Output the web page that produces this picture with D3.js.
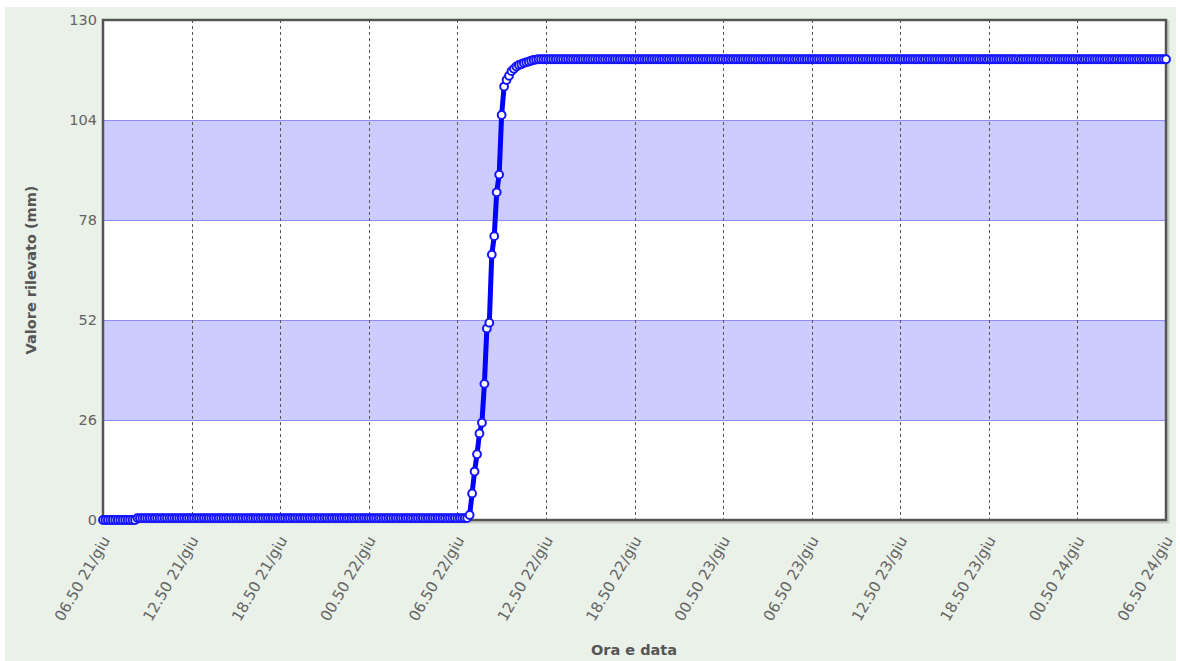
<!DOCTYPE html>
<html>
<head>
<meta charset="utf-8">
<script src="https://cdn.jsdelivr.net/npm/d3@7"></script>
<style>
  html, body { margin: 0; padding: 0; background: #ffffff; }
  svg { display: block; }
</style>
</head>
<body>
<svg id="chart" width="1180" height="661"></svg>
<script>
// ---- data ----
const startTime = new Date(2024, 5, 21, 6, 50); // 06.50 21/giu
const stepMinutes = 10;
const yTicks = [0, 26, 52, 78, 104, 130];
const xTickLabels = ["06.50 21/giu", "12.50 21/giu", "18.50 21/giu", "00.50 22/giu",
  "06.50 22/giu", "12.50 22/giu", "18.50 22/giu", "00.50 23/giu", "06.50 23/giu",
  "12.50 23/giu", "18.50 23/giu", "00.50 24/giu", "06.50 24/giu"];
const bands = [[26, 52], [78, 104]];
const values = [
  0,0,0,0,0,0,0,0,0,0,0,0,0,0,
  0.5,0.5,0.5,0.5,0.5,0.5,0.5,0.5,0.5,0.5,0.5,0.5,0.5,0.5,0.5,
  0.5,0.5,0.5,0.5,0.5,0.5,0.5,0.5,0.5,0.5,0.5,0.5,0.5,0.5,0.5,
  0.5,0.5,0.5,0.5,0.5,0.5,0.5,0.5,0.5,0.5,0.5,0.5,0.5,0.5,0.5,
  0.5,0.5,0.5,0.5,0.5,0.5,0.5,0.5,0.5,0.5,0.5,0.5,0.5,0.5,0.5,
  0.5,0.5,0.5,0.5,0.5,0.5,0.5,0.5,0.5,0.5,0.5,0.5,0.5,0.5,0.5,
  0.5,0.5,0.5,0.5,0.5,0.5,0.5,0.5,0.5,0.5,0.5,0.5,0.5,0.5,0.5,
  0.5,0.5,0.5,0.5,0.5,0.5,0.5,0.5,0.5,0.5,0.5,0.5,0.5,0.5,0.5,
  0.5,0.5,0.5,0.5,0.5,0.5,0.5,0.5,0.5,0.5,0.5,0.5,0.5,0.5,0.5,
  0.5,0.5,0.5,0.5,0.5,0.5,0.5,0.5,0.5,0.5,0.5,0.5,0.5,0.5,0.5,
  1.3,6.9,12.6,17.1,22.5,25.3,35.4,49.8,51.3,69,73.8,85.2,89.8,105.3,
  112.7,114.4,115.5,116.7,117.3,117.9,118.3,118.5,118.8,119,119.2,119.4,119.6,119.7,
  119.8,119.8,119.8,119.8,119.8,119.8,119.8,119.8,119.8,119.8,119.8,119.8,119.8,119.8,119.8,119.8,
  119.8,119.8,119.8,119.8,119.8,119.8,119.8,119.8,119.8,119.8,119.8,119.8,119.8,119.8,119.8,119.8,
  119.8,119.8,119.8,119.8,119.8,119.8,119.8,119.8,119.8,119.8,119.8,119.8,119.8,119.8,119.8,119.8,
  119.8,119.8,119.8,119.8,119.8,119.8,119.8,119.8,119.8,119.8,119.8,119.8,119.8,119.8,119.8,119.8,
  119.8,119.8,119.8,119.8,119.8,119.8,119.8,119.8,119.8,119.8,119.8,119.8,119.8,119.8,119.8,119.8,
  119.8,119.8,119.8,119.8,119.8,119.8,119.8,119.8,119.8,119.8,119.8,119.8,119.8,119.8,119.8,119.8,
  119.8,119.8,119.8,119.8,119.8,119.8,119.8,119.8,119.8,119.8,119.8,119.8,119.8,119.8,119.8,119.8,
  119.8,119.8,119.8,119.8,119.8,119.8,119.8,119.8,119.8,119.8,119.8,119.8,119.8,119.8,119.8,119.8,
  119.8,119.8,119.8,119.8,119.8,119.8,119.8,119.8,119.8,119.8,119.8,119.8,119.8,119.8,119.8,119.8,
  119.8,119.8,119.8,119.8,119.8,119.8,119.8,119.8,119.8,119.8,119.8,119.8,119.8,119.8,119.8,119.8,
  119.8,119.8,119.8,119.8,119.8,119.8,119.8,119.8,119.8,119.8,119.8,119.8,119.8,119.8,119.8,119.8,
  119.8,119.8,119.8,119.8,119.8,119.8,119.8,119.8,119.8,119.8,119.8,119.8,119.8,119.8,119.8,119.8,
  119.8,119.8,119.8,119.8,119.8,119.8,119.8,119.8,119.8,119.8,119.8,119.8,119.8,119.8,119.8,119.8,
  119.8,119.8,119.8,119.8,119.8,119.8,119.8,119.8,119.8,119.8,119.8,119.8,119.8,119.8,119.8,119.8,
  119.8,119.8,119.8,119.8,119.8,119.8,119.8,119.8,119.8,119.8,119.8,119.8,119.8,119.8,119.8,119.8,
  119.8,119.8,119.8,119.8,119.8,119.8,119.8,119.8,119.8,119.8,119.8,119.8,119.8,119.8,119.8,119.8
];

// ---- layout ----
const svg = d3.select("#chart");
const W = 1180, H = 661;
const plot = { left: 103, right: 1166, top: 20, bottom: 520 };
const font = "'DejaVu Sans', Verdana, sans-serif";
const textColor = "#636363";

const data = values.map((v, i) => ({ t: new Date(startTime.getTime() + i * stepMinutes * 60000), v }));
const endTime = data[data.length - 1].t;

const x = d3.scaleTime().domain([startTime, endTime]).range([plot.left, plot.right]);
const y = d3.scaleLinear().domain([0, 130]).range([plot.bottom, plot.top]);

const xTickValues = xTickLabels.map((_, i) => new Date(startTime.getTime() + i * 6 * 3600000));

// panel background
svg.append("rect").attr("x", 5).attr("y", 7).attr("width", W - 9).attr("height", H - 7)
  .attr("fill", "#eaf1e9");

// shadow of plot frame
svg.append("rect")
  .attr("x", plot.left + 2).attr("y", plot.top + 2)
  .attr("width", plot.right - plot.left).attr("height", plot.bottom - plot.top)
  .attr("fill", "none").attr("stroke", "#c8ccc6").attr("stroke-width", 3);

// plot background
svg.append("rect")
  .attr("x", plot.left).attr("y", plot.top)
  .attr("width", plot.right - plot.left).attr("height", plot.bottom - plot.top)
  .attr("fill", "#ffffff");

// bands
svg.append("g").selectAll("rect").data(bands).join("rect")
  .attr("x", plot.left).attr("width", plot.right - plot.left)
  .attr("y", d => y(d[1])).attr("height", d => y(d[0]) - y(d[1]))
  .attr("fill", "#ccccff");
svg.append("g").selectAll("line").data(yTicks.filter(v => v > 0 && v < 130)).join("line")
  .attr("x1", plot.left).attr("x2", plot.right)
  .attr("y1", d => Math.round(y(d)) + 0.5).attr("y2", d => Math.round(y(d)) + 0.5)
  .attr("stroke", "#8c8cff").attr("stroke-width", 1.2);

// vertical dashed grid
svg.append("g").selectAll("line").data(xTickValues).join("line")
  .attr("x1", d => Math.round(x(d)) + 0.5).attr("x2", d => Math.round(x(d)) + 0.5)
  .attr("y1", plot.top).attr("y2", plot.bottom)
  .attr("stroke", "#555").attr("stroke-width", 1).attr("stroke-dasharray", "3,3");

// frame
svg.append("rect")
  .attr("x", plot.left).attr("y", plot.top)
  .attr("width", plot.right - plot.left).attr("height", plot.bottom - plot.top)
  .attr("fill", "none").attr("stroke", "#555").attr("stroke-width", 2.5);

// y axis labels
const yAxis = d3.axisLeft(y).tickValues(yTicks).tickSize(0).tickPadding(6);
const gy = svg.append("g").attr("transform", `translate(${plot.left},0)`).call(yAxis);
gy.select(".domain").remove();
gy.selectAll("text").attr("font-family", font).attr("font-size", "14.5px").attr("fill", textColor);

// x axis labels
const xAxis = d3.axisBottom(x).tickValues(xTickValues).tickSize(0)
  .tickFormat((d, i) => xTickLabels[i]);
const gx = svg.append("g").attr("transform", `translate(0,${plot.bottom})`).call(xAxis);
gx.select(".domain").remove();
gx.selectAll("text")
  .attr("font-family", font).attr("font-size", "15px").attr("fill", textColor)
  .attr("text-anchor", "end")
  .attr("dy", null).attr("y", 0)
  .attr("transform", "translate(7,20) rotate(-60)");

// axis titles
svg.append("text").attr("x", 634).attr("y", 655).attr("text-anchor", "middle")
  .attr("font-family", font).attr("font-weight", "bold").attr("font-size", "14.5px")
  .attr("fill", "#555").text("Ora e data");
svg.append("text").attr("transform", `translate(36,${(plot.top + plot.bottom) / 2}) rotate(-90)`)
  .attr("text-anchor", "middle")
  .attr("font-family", font).attr("font-weight", "bold").attr("font-size", "14.5px")
  .attr("fill", "#555").text("Valore rilevato (mm)");

// series line
const line = d3.line().x(d => x(d.t)).y(d => y(d.v));
svg.append("path").datum(data).attr("d", line)
  .attr("fill", "none").attr("stroke", "#0000ff").attr("stroke-width", 5)
  .attr("stroke-linejoin", "round");

// markers
svg.append("g").selectAll("circle").data(data).join("circle")
  .attr("cx", d => x(d.t)).attr("cy", d => y(d.v)).attr("r", 3.9)
  .attr("fill", "#ffffff").attr("stroke", "#1414ff").attr("stroke-width", 2);
</script>
</body>
</html>
